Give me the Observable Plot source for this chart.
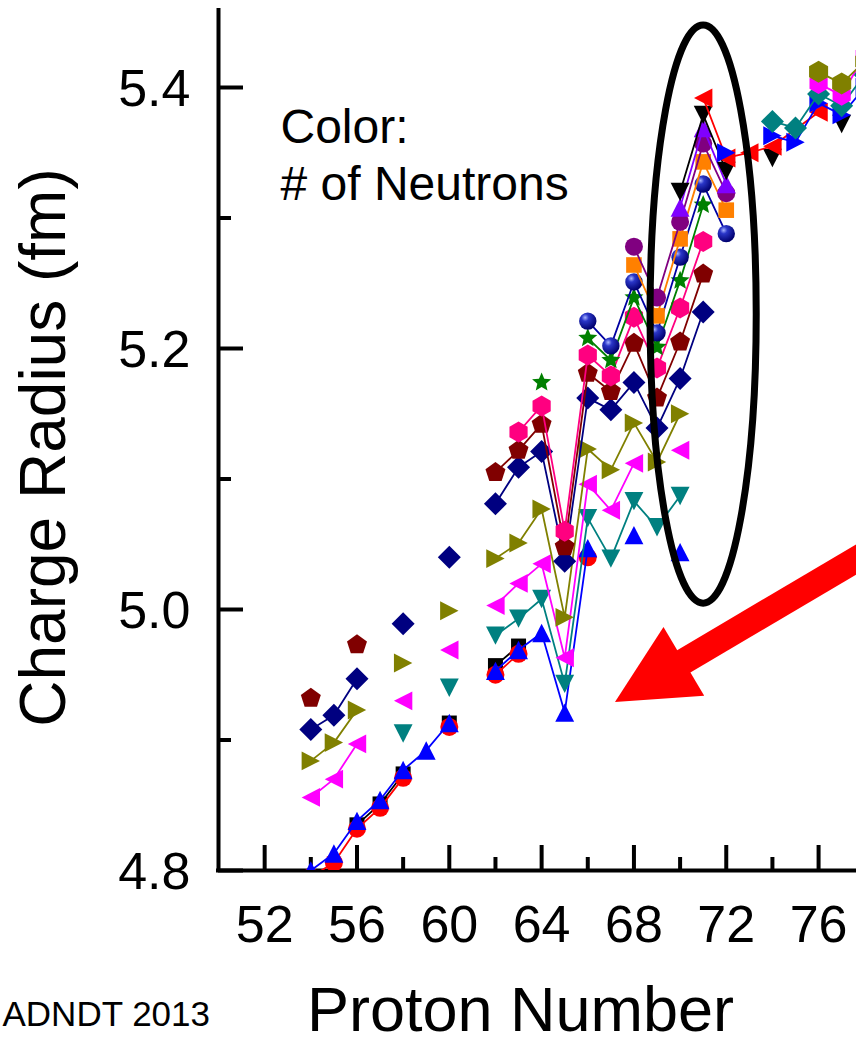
<!DOCTYPE html>
<html>
<head>
<meta charset="utf-8">
<script src="https://cdn.jsdelivr.net/npm/d3@7"></script>
<script src="https://cdn.jsdelivr.net/npm/@observablehq/plot@0.6"></script>
<style>
  html, body { margin: 0; padding: 0; background: #ffffff; overflow: hidden; }
</style>
</head>
<body>
<div id="chart"></div>
<script>
// ---------------- data ----------------
// Proton number Z, charge radius R (fm); null = no point (line break)
const blackSquareZ   = [56, 57, 58, 59, 60, 61, 62, 63];
const blackSquareR   = [4.835, 4.851, 4.874, null, 4.913, null, 4.957, 4.972];

const redCircleZ     = [53, 54, 55, 56, 57, 58, 59, 60, 61, 62, 63, 64, 65, 66];
const redCircleR     = [4.775, 4.795, 4.806, 4.832, 4.848, 4.871, null, 4.910, null, 4.950, 4.966, null, null, 5.040];

const blueUpZ        = [53, 54, 55, 56, 57, 58, 59, 60, 61, 62, 63, 64, 65, 66, 67, 68, 69, 70];
const blueUpR        = [4.785, 4.800, 4.813, 4.838, 4.854, 4.877, 4.892, 4.913, null, 4.953, 4.969, 4.982, 4.921, 5.047, null, 5.057, null, 5.044];

const tealDownZ      = [58, 59, 60, 61, 62, 63, 64, 65, 66, 67, 68, 69, 70];
const tealDownR      = [4.905, null, 4.940, null, 4.980, 4.993, 5.008, 4.943, 5.070, 5.039, 5.083, 5.063, 5.087];

const magentaLeftZ   = [54, 55, 56, 57, 58, 59, 60, 61, 62, 63, 64, 65, 66, 67, 68, 69, 70];
const magentaLeftR   = [4.856, 4.870, 4.897, null, 4.930, null, 4.969, null, 5.003, 5.020, 5.035, 4.963, 5.096, 5.076, 5.112, null, 5.122];

const oliveRightZ    = [54, 55, 56, 57, 58, 59, 60, 61, 62, 63, 64, 65, 66, 67, 68, 69, 70];
const oliveRightR    = [4.884, 4.898, 4.923, null, 4.959, null, 4.999, null, 5.039, 5.051, 5.077, 4.994, 5.123, 5.107, 5.143, 5.113, 5.150];

const navyDiamondZ   = [54, 55, 56, 57, 58, 59, 60, 61, 62, 63, 64, 65, 66, 67, 68, 69, 70, 71];
const navyDiamondR   = [4.908, 4.919, 4.947, null, 4.989, null, 5.040, null, 5.081, 5.109, 5.121, 5.037, 5.162, 5.153, 5.174, 5.139, 5.177, 5.228];

const maroonPentZ    = [54, 55, 56, 57, 58, 59, 60, 61, 62, 63, 64, 65, 66, 67, 68, 69, 70, 71];
const maroonPentR    = [4.932, null, 4.973, null, null, null, null, null, 5.105, 5.122, 5.142, 5.048, 5.181, 5.167, 5.204, 5.162, 5.205, 5.257];

const pinkHexZ       = [63, 64, 65, 66, 67, 68, 69, 70, 71];
const pinkHexR       = [5.136, 5.156, 5.060, 5.195, 5.179, 5.224, 5.185, 5.231, 5.282];

const greenStarZ     = [64, 65, 66, 67, 68, 69, 70, 71];
const greenStarR     = [5.174, null, 5.208, 5.191, 5.239, 5.201, 5.252, 5.310];

const blueSphereZ    = [66, 67, 68, 69, 70, 71, 72];
const blueSphereR    = [5.221, 5.202, 5.251, 5.212, 5.270, 5.326, 5.288];

const orangeSquareZ  = [68, 69, 70, 71, 72];
const orangeSquareR  = [5.264, 5.225, 5.284, 5.343, 5.306];

const purpleCircleZ  = [68, 69, 70, 71, 72];
const purpleCircleR  = [5.278, 5.239, 5.297, 5.357, 5.319];

const violetUpZ      = [70, 71, 72];
const violetUpR      = [5.308, 5.369, 5.326];

const blackDownZ     = [70, 71, 72, 73, 74, 75, 76, 77];
const blackDownR     = [5.320, 5.379, 5.336, null, 5.346, null, null, 5.372];

const redLeftZ       = [71, 72, 73, 74, 76];
const redLeftR       = [5.392, 5.346, 5.350, 5.355, 5.381];

const blueRightZ     = [72, 73, 74, 75, 76, 77, 78];
const blueRightR     = [5.350, null, 5.363, 5.358, 5.388, 5.379, 5.400];

const tealDiamondZ   = [74, 75, 76, 77, 78];
const tealDiamondR   = [5.374, 5.369, 5.395, 5.386, 5.410];

const magentaHexZ    = [76, 77, 78];
const magentaHexR    = [5.403, 5.394, 5.425];

const oliveHexZ      = [76, 77, 78];
const oliveHexR      = [5.412, 5.403, 5.420];

// axis ticks
const xMajorTicks = [52, 56, 60, 64, 68, 72, 76];
const xMinorTicks = [54, 58, 62, 66, 70, 74];
const yMajorTicks = [4.8, 5.0, 5.2, 5.4];
const yMinorTicks = [4.9, 5.1, 5.3];

// annotations (data coordinates)
const ellipseCenter = [71.02, 5.226];
const ellipseRadii  = [2.3, 0.2215];
const arrowTip      = [67.20, 4.9287];
const arrowTail     = [78.68, 5.0487];

// ---------------- symbols ----------------
function polySymbol(pts) {
  return {
    draw(ctx, size) {
      const R = Math.sqrt(size / Math.PI);
      pts.forEach(([a, b], i) => i ? ctx.lineTo(a * R, b * R) : ctx.moveTo(a * R, b * R));
      ctx.closePath();
    }
  };
}
function regularPts(n, rot) {
  return d3.range(n).map(i => {
    const a = (rot + i * 360 / n) * Math.PI / 180;
    return [Math.cos(a), Math.sin(a)];
  });
}
const symCircle = {
  draw(ctx, size) {
    const R = Math.sqrt(size / Math.PI);
    ctx.moveTo(R, 0);
    ctx.arc(0, 0, R, 0, 2 * Math.PI);
    ctx.closePath();
  }
};
const symSquare   = polySymbol([[-1, -1], [1, -1], [1, 1], [-1, 1]]);
const symDiamond  = polySymbol([[0, -1], [1, 0], [0, 1], [-1, 0]]);
const symUp       = polySymbol([[0, -0.875], [0.9, 0.875], [-0.9, 0.875]]);
const symDown     = polySymbol([[0, 0.875], [0.9, -0.875], [-0.9, -0.875]]);
const symLeft     = polySymbol([[-0.875, 0], [0.875, -0.9], [0.875, 0.9]]);
const symRight    = polySymbol([[0.875, 0], [-0.875, -0.9], [-0.875, 0.9]]);
const symPentagon = polySymbol(regularPts(5, -90));
const symHexagon  = polySymbol(regularPts(6, -90));
const symStar     = polySymbol(d3.range(10).map(i => {
  const a = (-90 + i * 36) * Math.PI / 180, k = i % 2 ? 0.45 : 1;
  return [k * Math.cos(a), k * Math.sin(a)];
}));

// ---------------- series table (drawing order) ----------------
const SPHERE = "#0000A1";
const seriesList = [
  {z: blackSquareZ,  r: blackSquareR,  color: "#000000", symbol: symSquare,   size: 7.5},
  {z: redCircleZ,    r: redCircleR,    color: "#FF0000", symbol: symCircle,   size: 9},
  {z: blueUpZ,       r: blueUpR,       color: "#0000FF", symbol: symUp,       size: 10.5},
  {z: tealDownZ,     r: tealDownR,     color: "#008080", symbol: symDown,     size: 10.5},
  {z: magentaLeftZ,  r: magentaLeftR,  color: "#FF00FF", symbol: symLeft,     size: 10.5},
  {z: oliveRightZ,   r: oliveRightR,   color: "#808000", symbol: symRight,    size: 10.5},
  {z: navyDiamondZ,  r: navyDiamondR,  color: "#000080", symbol: symDiamond,  size: 11.5},
  {z: maroonPentZ,   r: maroonPentR,   color: "#800000", symbol: symPentagon, size: 10.5},
  {z: pinkHexZ,      r: pinkHexR,      color: "#FF0080", symbol: symHexagon,  size: 10.5},
  {z: greenStarZ,    r: greenStarR,    color: "#008000", symbol: symStar,     size: 10},
  {z: blueSphereZ,   r: blueSphereR,   color: SPHERE,    symbol: symCircle,   size: 8.7},
  {z: orangeSquareZ, r: orangeSquareR, color: "#FF8000", symbol: symSquare,   size: 7.8},
  {z: purpleCircleZ, r: purpleCircleR, color: "#800080", symbol: symCircle,   size: 9},
  {z: violetUpZ,     r: violetUpR,     color: "#8000FF", symbol: symUp,       size: 10.5},
  {z: blackDownZ,    r: blackDownR,    color: "#000000", symbol: symDown,     size: 10.5},
  {z: redLeftZ,      r: redLeftR,      color: "#FF0000", symbol: symLeft,     size: 10.5},
  {z: blueRightZ,    r: blueRightR,    color: "#0000FF", symbol: symRight,    size: 10.5},
  {z: tealDiamondZ,  r: tealDiamondR,  color: "#008080", symbol: symDiamond,  size: 11.5},
  {z: magentaHexZ,   r: magentaHexR,   color: "#FF00FF", symbol: symHexagon,  size: 10.5},
  {z: oliveHexZ,     r: oliveHexR,     color: "#808000", symbol: symHexagon,  size: 11}
];

const dataMarks = seriesList.flatMap(s => {
  const rows = s.z.map((z, i) => ({z, r: s.r[i]}));
  return [
    Plot.line(rows, {x: "z", y: "r", stroke: s.color, strokeWidth: 1.8, clip: true}),
    Plot.dot(rows, {x: "z", y: "r", fill: s.color, stroke: "none", symbol: s.symbol, r: s.size, clip: true})
  ];
});

const FONT = "'Liberation Sans', Arial, Helvetica, sans-serif";

const plot = Plot.plot({
  width: 856,
  height: 1045,
  marginLeft: 218,
  marginRight: 0,
  marginTop: 10,
  marginBottom: 175,
  style: {fontFamily: FONT, background: "#ffffff", color: "#000000", overflow: "visible"},
  x: {domain: [50, 77.643], label: null},
  y: {domain: [4.8, 5.459], label: null},
  marks: [
    // inward tick marks (frame is 638 x 860 px)
    Plot.tickX(xMajorTicks, {x: d => d, insetTop: 835, strokeWidth: 4, stroke: "#000000"}),
    Plot.tickX(xMinorTicks, {x: d => d, insetTop: 847, strokeWidth: 4, stroke: "#000000"}),
    Plot.tickY(yMajorTicks, {y: d => d, insetRight: 613, strokeWidth: 4, stroke: "#000000"}),
    Plot.tickY(yMinorTicks, {y: d => d, insetRight: 625, strokeWidth: 4, stroke: "#000000"}),
    // tick labels
    Plot.axisX(xMajorTicks, {tickSize: 0, tickPadding: 35, fontSize: 52, stroke: "none", fill: "#000000", label: null, tickFormat: d => String(d)}),
    Plot.axisY(yMajorTicks, {tickSize: 0, tickPadding: 28, fontSize: 52, stroke: "none", fill: "#000000", label: null, dy: 2, tickFormat: d => d.toFixed(1)}),
    // axis lines
    Plot.ruleX([50], {strokeWidth: 4, stroke: "#000000", strokeLinecap: "square"}),
    Plot.ruleY([4.8], {strokeWidth: 4, stroke: "#000000", strokeLinecap: "square"}),
    // data
    ...dataMarks,
    // texts
    Plot.text(["Color:\n# of Neutrons"], {text: d => d, frameAnchor: "top-left", dx: 62, dy: 92, textAnchor: "start", lineAnchor: "top", fontSize: 48, lineHeight: 1.19, fill: "#000000"}),
    Plot.text(["Proton Number"], {text: d => d, frameAnchor: "bottom", dx: -17, dy: 160, textAnchor: "middle", lineAnchor: "bottom", fontSize: 63, fill: "#000000"}),
    Plot.text(["Charge Radius (fm)"], {text: d => d, frameAnchor: "left", dx: -154, dy: 7, rotate: -90, textAnchor: "middle", lineAnchor: "bottom", fontSize: 64, fill: "#000000"}),
    Plot.text(["ADNDT 2013"], {text: d => d, frameAnchor: "bottom-left", dx: -216, dy: 155, textAnchor: "start", lineAnchor: "bottom", fontSize: 35, fill: "#000000"})
  ]
});

document.getElementById("chart").appendChild(plot);

// ---------------- annotations via the plot's own scales ----------------
const sx = plot.scale("x"), sy = plot.scale("y");
const X = d3.scaleLinear(sx.domain, sx.range);
const Y = d3.scaleLinear(sy.domain, sy.range);
const svg = d3.select(plot);

// sphere-like gradient for the dark blue balls
const defs = svg.append("defs");
const grad = defs.append("radialGradient").attr("id", "sphereGrad")
  .attr("cx", "35%").attr("cy", "30%").attr("r", "70%");
grad.append("stop").attr("offset", "0%").attr("stop-color", "#a8b4ff");
grad.append("stop").attr("offset", "30%").attr("stop-color", "#2a36c8");
grad.append("stop").attr("offset", "100%").attr("stop-color", "#00006e");
svg.selectAll(`g[fill="${SPHERE}"]`).attr("fill", "url(#sphereGrad)");

// ellipse
svg.append("ellipse")
  .attr("cx", X(ellipseCenter[0]))
  .attr("cy", Y(ellipseCenter[1]))
  .attr("rx", X(ellipseCenter[0] + ellipseRadii[0]) - X(ellipseCenter[0]))
  .attr("ry", Y(ellipseCenter[1] - ellipseRadii[1]) - Y(ellipseCenter[1]))
  .attr("fill", "none").attr("stroke", "#000000").attr("stroke-width", 7);

// red arrow
const tx = X(arrowTip[0]), ty = Y(arrowTip[1]);
const ex = X(arrowTail[0]), ey = Y(arrowTail[1]);
const len = Math.hypot(ex - tx, ey - ty);
const ux = (ex - tx) / len, uy = (ey - ty) / len, nx = -uy, ny = ux;
const headLen = 80, headHalf = 40, shaftW = 26;
const bx = tx + ux * headLen, by = ty + uy * headLen;
svg.append("line")
  .attr("x1", bx - ux * 4).attr("y1", by - uy * 4)
  .attr("x2", ex).attr("y2", ey)
  .attr("stroke", "#FF0000").attr("stroke-width", shaftW);
svg.append("path")
  .attr("d", `M${tx},${ty}L${bx + nx * headHalf},${by + ny * headHalf}L${bx - nx * headHalf},${by - ny * headHalf}Z`)
  .attr("fill", "#FF0000");
</script>
</body>
</html>
